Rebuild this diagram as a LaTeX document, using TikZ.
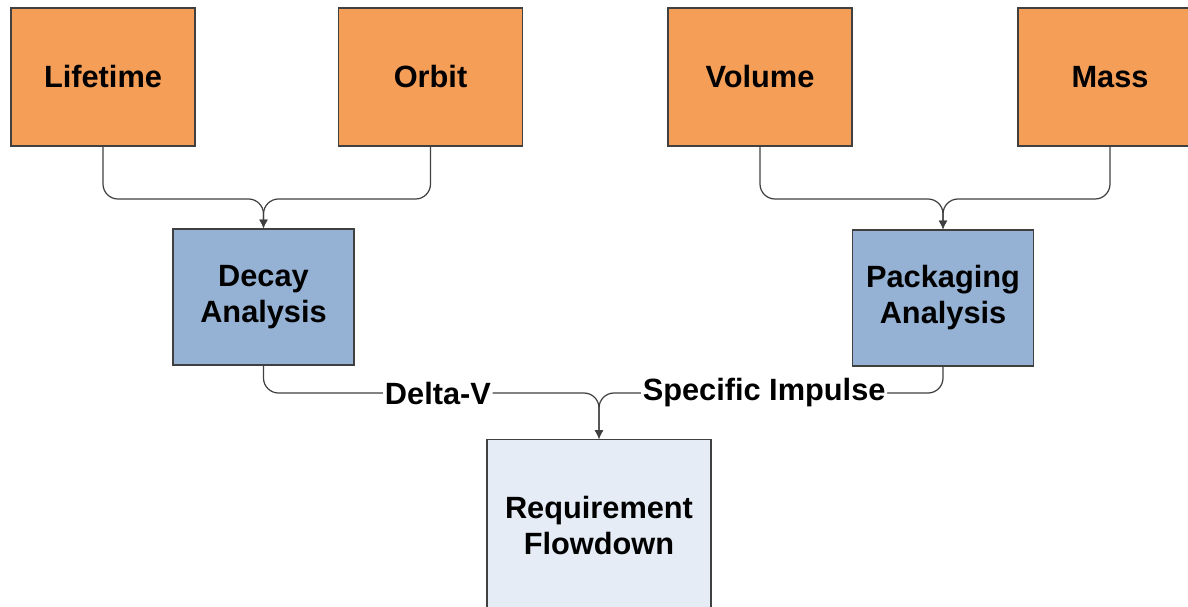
\documentclass[tikz,border=0pt]{standalone}
\usepackage{fontspec}
\setmainfont{Liberation Sans}
\usetikzlibrary{arrows.meta, positioning}
\usepackage{xcolor}
\definecolor{inputbox}{RGB}{244, 158, 88}
\definecolor{analysisbox}{RGB}{149, 178, 212}
\definecolor{resultbox}{RGB}{229, 236, 246}
\definecolor{edgeline}{RGB}{64, 64, 64}

\begin{document}
\begin{tikzpicture}[
        block/.style={draw=edgeline, line width=0.8pt, align=center, inner sep=0pt,
            font=\fontsize{17.5}{20.5}\selectfont\bfseries},
        inbox/.style={block, fill=inputbox, minimum width=3.68cm, minimum height=2.76cm},
        anbox/.style={block, fill=analysisbox, minimum width=3.62cm, minimum height=2.72cm},
        link/.style={draw=edgeline, line width=0.7pt, rounded corners=0.3cm,
            -{Latex[length=5pt, width=5pt]}},
        lbl/.style={fill=white, inner sep=1pt, font=\fontsize{17.5}{20.5}\selectfont\bfseries}
    ]
        \clip (0,0) rectangle (23.76,-12.12);

        % 输入
        \node[inbox] (life) at (2.06,-1.54) {Lifetime};
        \node[inbox] (orbit) at (8.61,-1.54) {Orbit};
        \node[inbox] (volume) at (15.2,-1.54) {Volume};
        \node[inbox] (mass) at (22.2,-1.54) {Mass};

        % 分析
        \node[anbox] (decay) at (5.27,-5.94) {Decay\\Analysis};
        \node[anbox] (pack) at (18.86,-5.96) {Packaging\\Analysis};

        % 结果
        \node[block, fill=resultbox, minimum width=4.48cm, minimum height=3.42cm, anchor=north]
            (req) at (11.98,-8.78) {Requirement\\Flowdown};

        % 汇合点
        \coordinate (jd) at (decay.north |- 0,-3.98);
        \coordinate (jp) at (pack.north |- 0,-3.98);
        \coordinate (jr) at (req.north |- 0,-7.86);

        % 连线
        \draw[link] (life.south) |- (jd) -- (decay.north);
        \draw[link] (orbit.south) |- (jd) -- (decay.north);
        \draw[link] (volume.south) |- (jp) -- (pack.north);
        \draw[link] (mass.south) |- (jp) -- (pack.north);

        \draw[link] (decay.south) |- node[lbl, pos=0.76] (dv) {Delta-V} (jr) -- (req.north);
        \draw[link] (pack.south) |- node[lbl, pos=0.76] (isp) {Specific Impulse} (jr) -- (req.north);

    \end{tikzpicture}
\end{document}
